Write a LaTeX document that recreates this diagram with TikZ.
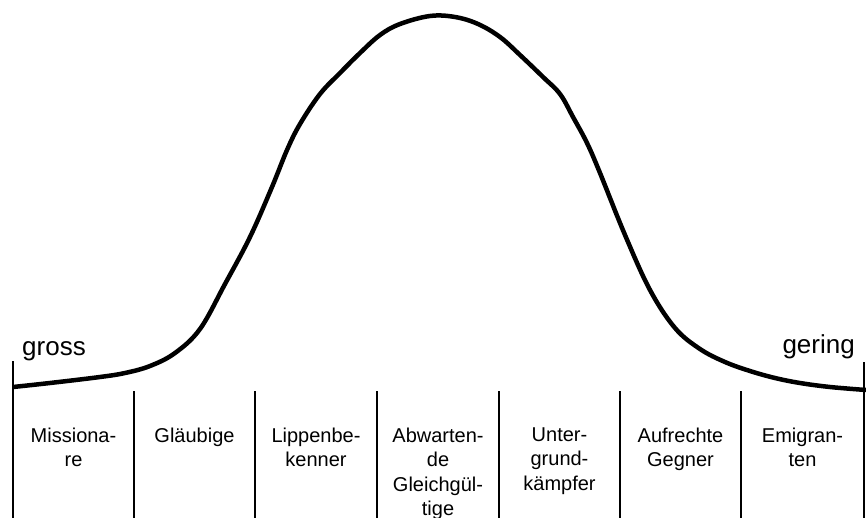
\documentclass[tikz,border=0pt]{standalone}
\usepackage{fontspec}
\setmainfont{Liberation Sans}
\usetikzlibrary{positioning}

\begin{document}
\begin{tikzpicture}[x=1pt, y=-1pt,
    every node/.style={inner sep=0pt, align=center},
    colname/.style={anchor=north, font=\fontsize{20}{24.5}\selectfont},
    endname/.style={font=\fontsize{26}{30}\selectfont},
    divider/.style={line width=2pt},
    bell/.style={line width=4.5pt, line join=round}]
    \useasboundingbox (0,0) rectangle (866,518);
    \clip (0,0) rectangle (866,518);

    % frame and column dividers
    \coordinate (l0) at (13,361);  \coordinate (b0) at (13,518);
    \coordinate (l7) at (864,362); \coordinate (b7) at (864,518);
    \draw[divider] (l0) -- (b0);
    \draw[divider] (l7) -- (b7);
    \draw[divider] (134,391) -- (134,518);
    \draw[divider] (255,391) -- (255,518);
    \draw[divider] (377,391) -- (377,518);
    \draw[divider] (499,391) -- (499,518);
    \draw[divider] (620,391) -- (620,518);
    \draw[divider] (741,391) -- (741,518);

    % bell curve
    \draw[bell] plot[smooth, tension=0.6] coordinates {
        (13,387) (50,383) (100,377) (125,373) (150,366) (175,353)
        (200,329) (225,284) (250,237) (272,187) (287,150) (300,124)
        (320,94) (340,73) (360,53) (380,35) (400,24) (430,16)
        (455,17) (478,24) (500,37) (520,55) (543,77) (560,94)
        (573,117) (587,143) (600,173) (625,235) (650,290) (675,328)
        (700,349) (725,362) (750,371) (775,378) (800,383) (830,387)
        (866,390)};

    % end labels
    \node[endname, anchor=base west] (gross) at (22,355) {gross};
    \node[endname, anchor=base east] (gering) at (855,353) {gering};

    % column labels
    \node[colname] (missionare) at (73.5,427.5) {Missiona-\\re};
    \node[colname] (glaeubige) at (194.5,427.5) {Gläubige};
    \node[colname] (lippen) at (316,427.5) {Lippenbe-\\kenner};
    \node[colname] (abwartende) at (438,427.5) {Abwarten-\\de\\Gleichgül-\\tige};
    \node[colname] (untergrund) at (559.5,427.5) {Unter-\\grund-\\kämpfer};
    \node[colname] (aufrechte) at (680.5,427.5) {Aufrechte\\Gegner};
    \node[colname] (emigranten) at (802.5,427.5) {Emigran-\\ten};
\end{tikzpicture}
\end{document}
